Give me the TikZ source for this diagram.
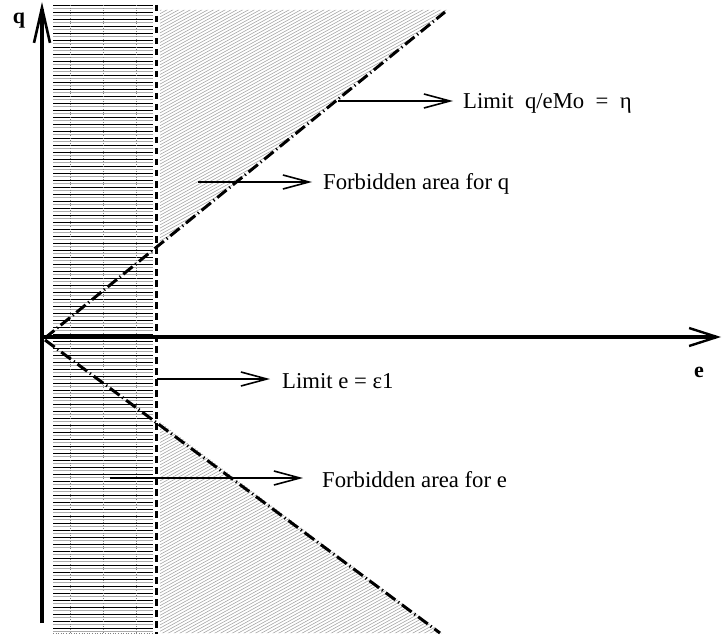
\documentclass[tikz,border=0pt]{standalone}
\usepackage{fontspec}
\setmainfont{Liberation Serif}
\usetikzlibrary{arrows.meta}
\begin{document}
\begin{tikzpicture}[x=1pt,y=-1pt,
  lbl/.style={font=\fontsize{22.7}{26}\selectfont, anchor=west, inner sep=0pt},
  axislbl/.style={font=\fontsize{22}{26}\selectfont\bfseries, inner sep=0pt},
  ptr/.style={line width=1.6pt, -{Straight Barb[length=26pt,width=14pt,line width=1.6pt]}},
  axisline/.style={line width=3.4pt},
  bound/.style={line width=3pt, dash pattern=on 12pt off 3.5pt on 1.2pt off 3.5pt},
  wall/.style={line width=3pt, dash pattern=on 6.5pt off 4.5pt},
  hatch/.style={gray!70, line width=0.6pt},
  hblack/.style={black, line width=0.85pt},
  hgray/.style={gray!65, line width=1.1pt},
  tick/.style={gray, line width=0.6pt, dotted},
]
\useasboundingbox (0,0) rectangle (722,639);

% horizontal hatching (forbidden e region)
\foreach \yy in {5,12,...,632} \draw[hblack] (53,\yy) -- (153,\yy);
\foreach \yy in {8.5,15.5,...,632} \draw[hgray] (53,\yy) -- (153,\yy);
\foreach \xx in {70,103,136} \draw[tick] (\xx,5) -- (\xx,632);
\draw[tick] (53,633) -- (153,633);

% diagonal hatching upper
\begin{scope}
  \clip (160,10) -- (447,10) -- (160,244.3) -- cycle;
  \foreach \i in {0,3.2,...,900} \draw[hatch] (150,\i) -- ++(400,-220);
\end{scope}
% diagonal hatching lower
\begin{scope}
  \clip (160,422) -- (442,633) -- (160,633) -- cycle;
  \foreach \i in {0,3.2,...,900} \draw[hatch] (150,\i) -- ++(400,-220);
\end{scope}

% coordinates
\coordinate (o1) at (45,338);
\coordinate (t1) at (445,12);
\coordinate (o2) at (45,340);
\coordinate (t2) at (440,633);
\coordinate (wtop) at (156,5);
\coordinate (wbot) at (156,634);
\coordinate (qbot) at (42,623);
\coordinate (qtop) at (42,2);
\coordinate (eleft) at (42,337);
\coordinate (eright) at (721,337);

% boundaries
\draw[bound] (o1) -- (t1);
\draw[bound] (o2) -- (t2);
\draw[wall] (wtop) -- (wbot);

% axes
\draw[axisline, -{Straight Barb[length=35pt,width=16pt,line width=2.6pt]}] (qbot) -- (qtop);
\draw[axisline, -{Straight Barb[length=28pt,width=18pt,line width=2.4pt]}] (eleft) -- (eright);
\node[axislbl] (qlbl) at (19,21) {q};
\node[axislbl] (elbl) at (699,372) {e};

% labels and pointers
\node[lbl] (lq) at (463,103) {Limit\ \ q/eMo \ = \ η};
\node[lbl] (fq) at (323,184) {Forbidden area for q};
\node[lbl] (le) at (282,381) {Limit e = ε1};
\node[lbl] (fe) at (322,480) {Forbidden area for e};

\coordinate (s1) at (338,101);
\coordinate (s2) at (198,182);
\coordinate (s3) at (157,379);
\coordinate (s4) at (110,478);

\draw[ptr, shorten >=10pt] (s1) -- (s1 -| lq.west);
\draw[ptr, shorten >=11pt] (s2) -- (s2 -| fq.west);
\draw[ptr, shorten >=12pt] (s3) -- (s3 -| le.west);
\draw[ptr, shorten >=19pt] (s4) -- (s4 -| fe.west);
\end{tikzpicture}
\end{document}
